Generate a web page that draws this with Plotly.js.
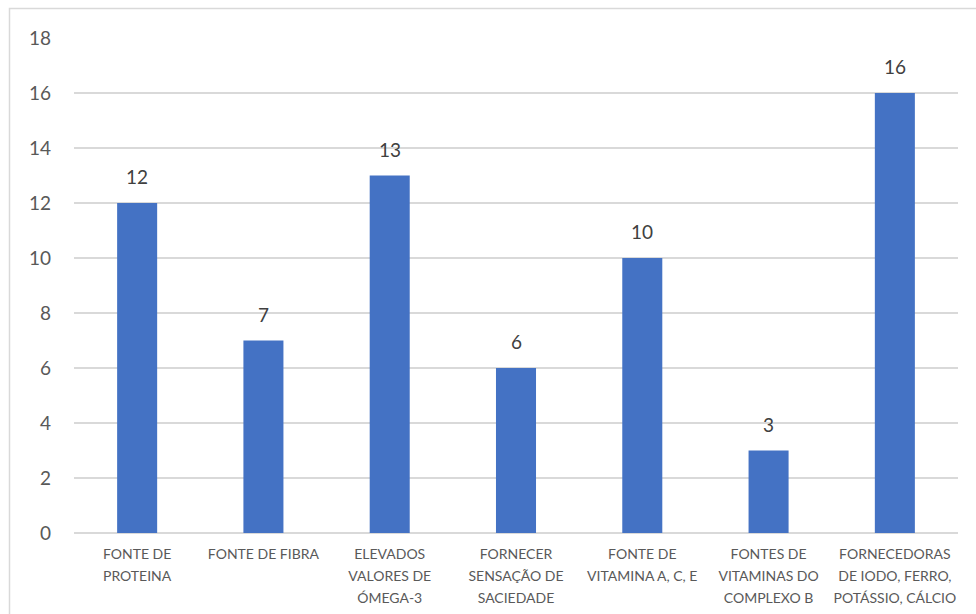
<!DOCTYPE html>
<html>
<head>
<meta charset="utf-8">
<script src="https://cdn.plot.ly/plotly-3.0.1.min.js"></script>
<style>
  html, body { margin: 0; padding: 0; background: #ffffff; }
  #chart { width: 976px; height: 614px; }
</style>
</head>
<body>
<div id="chart"></div>
<script>
// Categories (axis labels, with line breaks) and counts per category
const categories = [
  'FONTE DE<br>PROTEINA',
  'FONTE DE FIBRA',
  'ELEVADOS<br>VALORES DE<br>ÓMEGA-3',
  'FORNECER<br>SENSAÇÃO DE<br>SACIEDADE',
  'FONTE DE<br>VITAMINA A, C, E',
  'FONTES DE<br>VITAMINAS DO<br>COMPLEXO B',
  'FORNECEDORAS<br>DE IODO, FERRO,<br>POTÁSSIO, CÁLCIO'
];
const counts = [12, 7, 13, 6, 10, 3, 16];
const yTicks = [0, 2, 4, 6, 8, 10, 12, 14, 16, 18];

const W = 976, H = 614;
const margin = { l: 74, r: 18, t: 38, b: 81 };
const plotW = W - margin.l - margin.r;
const plotH = H - margin.t - margin.b;
const fontFamily = 'Lato, "Open Sans", sans-serif';
const textColor = '#595959';
const gridColor = '#D9D9D9';

// Category labels: the outer font size sets the line spacing,
// the inner span sets the glyph size.
const catLabels = categories.map(c =>
  c.split('<br>').map(line => '<span style="font-size:14px">' + line + '</span>').join('<br>')
);

// Value labels above each bar
const valueLabels = categories.map((c, i) => ({
  x: c, y: counts[i], xref: 'x', yref: 'y',
  text: String(counts[i]),
  showarrow: false, yanchor: 'bottom', yshift: 13,
  font: { family: fontFamily, size: 19, color: '#404040' }
}));

// Outer frame of the chart area
const frame = {
  type: 'rect', xref: 'paper', yref: 'paper', layer: 'below',
  x0: (9.5 - margin.l) / plotW, x1: 1 + (margin.r + 20) / plotW,
  y0: -(margin.b + 20) / plotH, y1: 1 + (margin.t - 8.5) / plotH,
  line: { color: gridColor, width: 1.5 }, fillcolor: 'rgba(0,0,0,0)'
};

const trace = {
  type: 'bar',
  x: categories,
  y: counts,
  marker: { color: '#4472C4' },
  hoverinfo: 'skip'
};

const layout = {
  width: W, height: H,
  margin: margin,
  paper_bgcolor: '#ffffff',
  plot_bgcolor: '#ffffff',
  bargap: 0.683,
  showlegend: false,
  font: { family: fontFamily, color: textColor },
  xaxis: {
    type: 'category',
    tickvals: categories,
    ticktext: catLabels,
    tickfont: { family: fontFamily, size: 17, color: textColor },
    tickangle: 0,
    showgrid: false,
    zeroline: false,
    showline: false,
    ticks: '',
    ticklabelstandoff: 8,
    fixedrange: true
  },
  yaxis: {
    range: [0, 18],
    tickvals: yTicks,
    ticktext: yTicks.map(String),
    tickfont: { family: fontFamily, size: 19, color: textColor },
    showgrid: true,
    gridcolor: gridColor,
    gridwidth: 1.5,
    zeroline: true,
    zerolinecolor: gridColor,
    zerolinewidth: 1.5,
    showline: false,
    ticks: '',
    ticklabelstandoff: 22,
    fixedrange: true
  },
  annotations: valueLabels,
  shapes: [frame]
};

Plotly.newPlot('chart', [trace], layout, { displayModeBar: false, staticPlot: true });
</script>
</body>
</html>
